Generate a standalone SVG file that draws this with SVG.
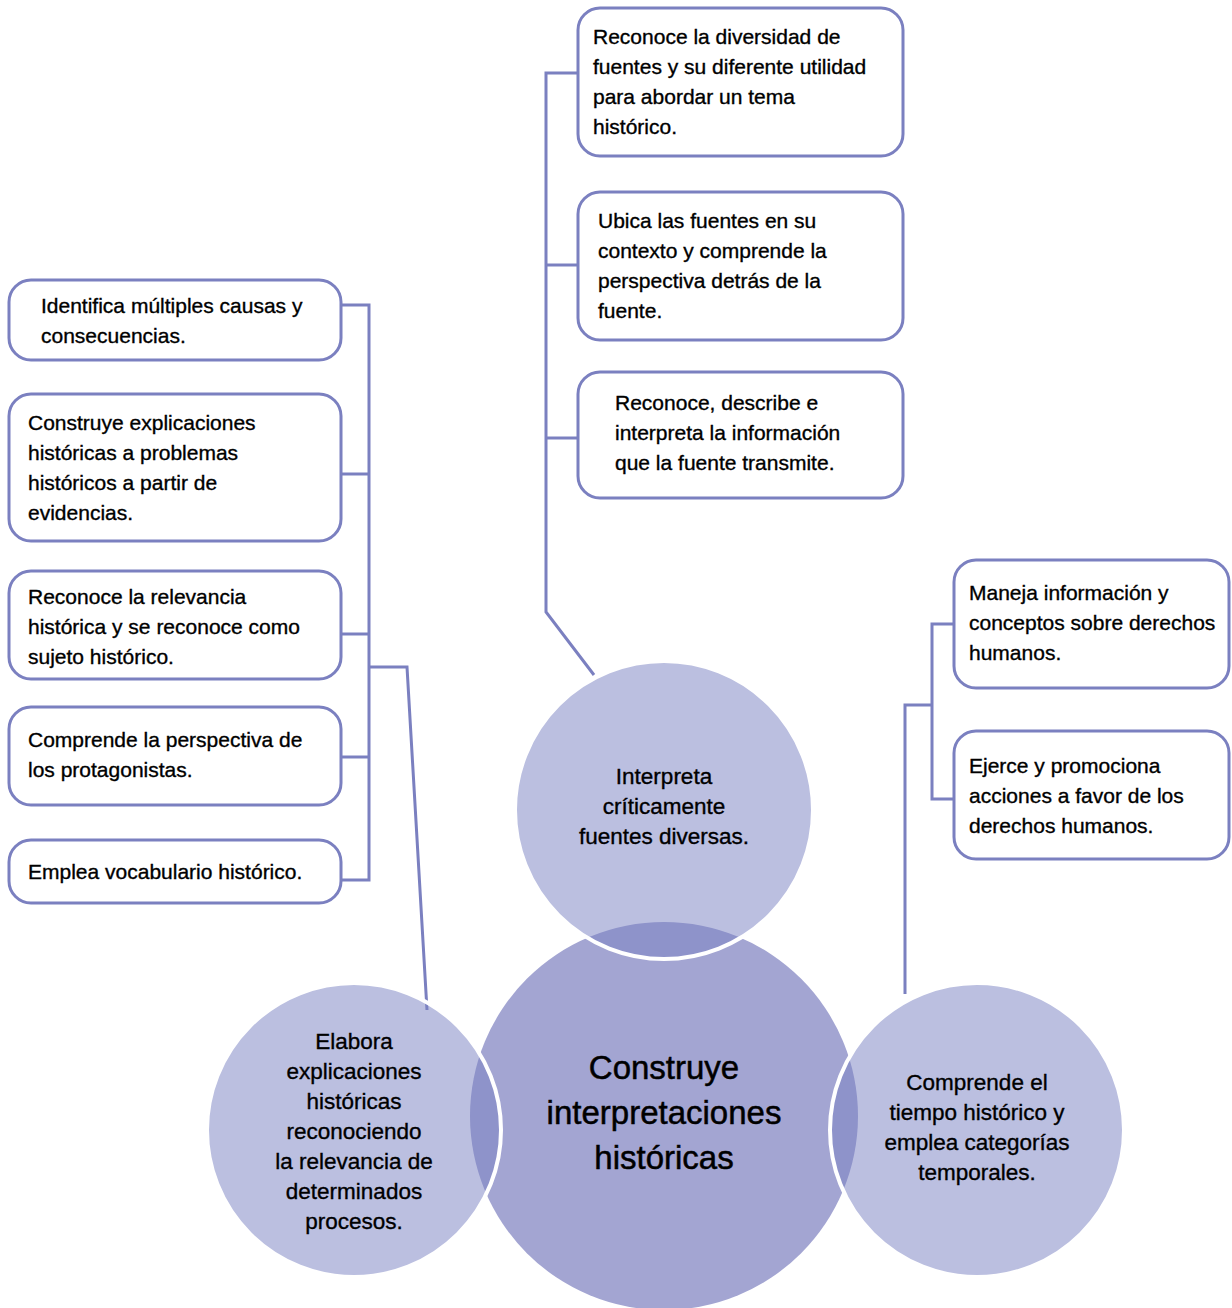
<svg xmlns="http://www.w3.org/2000/svg" width="1232" height="1308" viewBox="0 0 1232 1308">
<style>
.box{fill:#fff;stroke:#7b80c0;stroke-width:3}
.con{fill:none;stroke:#7b80c0;stroke-width:3}
.t{font-family:"Liberation Sans",Arial,sans-serif;font-size:21px;fill:#000;stroke:#000;stroke-width:0.35}
.c{font-family:"Liberation Sans",Arial,sans-serif;font-size:22.5px;fill:#000;stroke:#000;stroke-width:0.35;text-anchor:middle}
.big{font-family:"Liberation Sans",Arial,sans-serif;font-size:33px;fill:#000;stroke:#000;stroke-width:0.5;text-anchor:middle}
.sc{fill:#7a82c2;fill-opacity:0.51;stroke:#fff;stroke-width:4}
</style>
<rect width="1232" height="1308" fill="#fff"/>
<g id="connectors">
<polyline class="con" points="578,73 546,73 546,612 594,675"/>
<line class="con" x1="546" y1="265" x2="578" y2="265"/>
<line class="con" x1="546" y1="438" x2="578" y2="438"/>
<polyline class="con" points="341,305 369,305 369,880 341,880"/>
<line class="con" x1="341" y1="474" x2="369" y2="474"/>
<line class="con" x1="341" y1="634" x2="369" y2="634"/>
<line class="con" x1="341" y1="757" x2="369" y2="757"/>
<polyline class="con" points="369,667 407,667 427,1010"/>
<polyline class="con" points="954,624 932,624 932,799 954,799"/>
<polyline class="con" points="932,705 905,705 905,994"/>
</g>
<g id="center">
<circle cx="664" cy="1116" r="194" fill="#a3a5d2"/>
<text class="big" x="664" y="1079">Construye</text>
<text class="big" x="664" y="1124">interpretaciones</text>
<text class="big" x="664" y="1169">históricas</text>
</g>
<g id="circle-top">
<circle class="sc" cx="664" cy="810" r="149"/>
<text class="c" x="664" y="784">Interpreta</text>
<text class="c" x="664" y="814">críticamente</text>
<text class="c" x="664" y="844">fuentes diversas.</text>
</g>
<g id="circle-left">
<circle class="sc" cx="354" cy="1130" r="147"/>
<text class="c" x="354" y="1049">Elabora</text>
<text class="c" x="354" y="1079">explicaciones</text>
<text class="c" x="354" y="1109">históricas</text>
<text class="c" x="354" y="1139">reconociendo</text>
<text class="c" x="354" y="1169">la relevancia de</text>
<text class="c" x="354" y="1199">determinados</text>
<text class="c" x="354" y="1229">procesos.</text>
</g>
<g id="circle-right">
<circle class="sc" cx="977" cy="1130" r="147"/>
<text class="c" x="977" y="1090">Comprende el</text>
<text class="c" x="977" y="1120">tiempo histórico y</text>
<text class="c" x="977" y="1150">emplea categorías</text>
<text class="c" x="977" y="1180">temporales.</text>
</g>
<g id="box-t1">
<rect class="box" x="578" y="8" width="325" height="148" rx="22"/>
<text class="t" x="593" y="44">Reconoce la diversidad de</text>
<text class="t" x="593" y="74">fuentes y su diferente utilidad</text>
<text class="t" x="593" y="104">para abordar un tema</text>
<text class="t" x="593" y="134">histórico.</text>
</g>
<g id="box-t2">
<rect class="box" x="578" y="192" width="325" height="148" rx="22"/>
<text class="t" x="598" y="228">Ubica las fuentes en su</text>
<text class="t" x="598" y="258">contexto y comprende la</text>
<text class="t" x="598" y="288">perspectiva detrás de la</text>
<text class="t" x="598" y="318">fuente.</text>
</g>
<g id="box-t3">
<rect class="box" x="578" y="372" width="325" height="126" rx="22"/>
<text class="t" x="615" y="410">Reconoce, describe e</text>
<text class="t" x="615" y="440">interpreta la información</text>
<text class="t" x="615" y="470">que la fuente transmite.</text>
</g>
<g id="box-l1">
<rect class="box" x="9" y="280" width="332" height="80" rx="22"/>
<text class="t" x="41" y="313">Identifica múltiples causas y</text>
<text class="t" x="41" y="343">consecuencias.</text>
</g>
<g id="box-l2">
<rect class="box" x="9" y="394" width="332" height="147" rx="22"/>
<text class="t" x="28" y="430">Construye explicaciones</text>
<text class="t" x="28" y="460">históricas a problemas</text>
<text class="t" x="28" y="490">históricos a partir de</text>
<text class="t" x="28" y="520">evidencias.</text>
</g>
<g id="box-l3">
<rect class="box" x="9" y="571" width="332" height="108" rx="22"/>
<text class="t" x="28" y="604">Reconoce la relevancia</text>
<text class="t" x="28" y="634">histórica y se reconoce como</text>
<text class="t" x="28" y="664">sujeto histórico.</text>
</g>
<g id="box-l4">
<rect class="box" x="9" y="707" width="332" height="98" rx="22"/>
<text class="t" x="28" y="747">Comprende la perspectiva de</text>
<text class="t" x="28" y="777">los protagonistas.</text>
</g>
<g id="box-l5">
<rect class="box" x="9" y="840" width="332" height="63" rx="22"/>
<text class="t" x="28" y="879">Emplea vocabulario histórico.</text>
</g>
<g id="box-r1">
<rect class="box" x="954" y="560" width="275" height="128" rx="22"/>
<text class="t" x="969" y="600">Maneja información y</text>
<text class="t" x="969" y="630">conceptos sobre derechos</text>
<text class="t" x="969" y="660">humanos.</text>
</g>
<g id="box-r2">
<rect class="box" x="954" y="731" width="275" height="128" rx="22"/>
<text class="t" x="969" y="773">Ejerce y promociona</text>
<text class="t" x="969" y="803">acciones a favor de los</text>
<text class="t" x="969" y="833">derechos humanos.</text>
</g>
</svg>
